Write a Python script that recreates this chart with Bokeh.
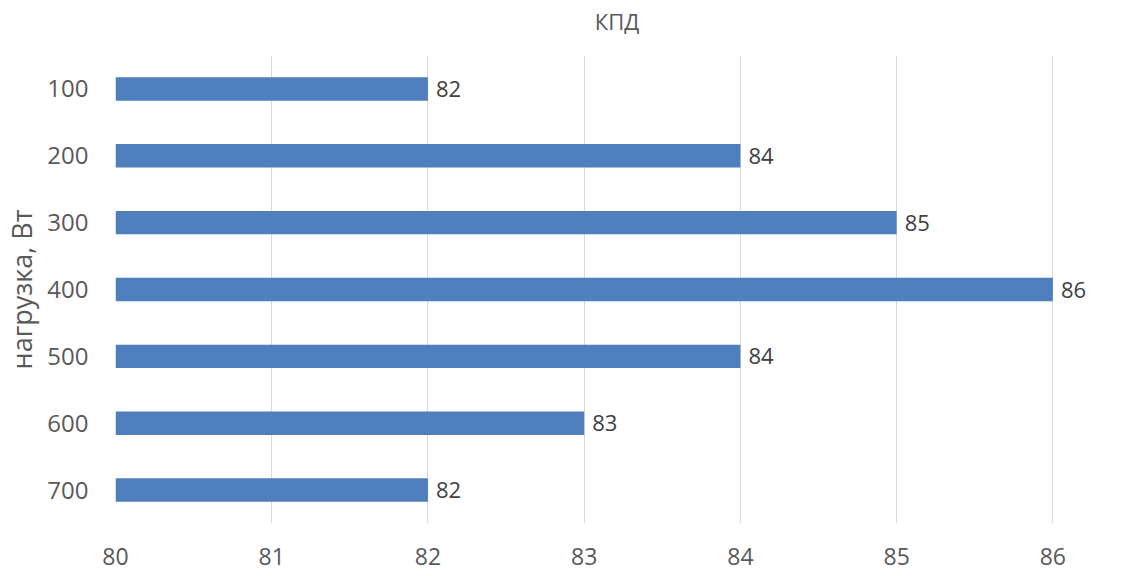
from bokeh.plotting import figure
from bokeh.models import ColumnDataSource, FactorRange, Range1d, FixedTicker, LinearAxis
from bokeh.core.properties import value
from bokeh.embed import file_html
from bokeh.resources import INLINE

title_text = "КПД"
loads = ["100", "200", "300", "400", "500", "600", "700"]
kpd = [82, 84, 85, 86, 84, 83, 82]
x_ticks = [80, 81, 82, 83, 84, 85, 86]

FONT = "Open Sans"
src = ColumnDataSource(dict(y=loads, right=kpd, left=[80] * len(loads),
                            label=[str(v) for v in kpd]))

p = figure(width=1119, height=568, output_backend="svg", toolbar_location=None,
           y_range=FactorRange(factors=list(reversed(loads))),
           x_range=Range1d(80, 86.42),
           min_border_left=115, min_border_top=55, min_border_bottom=45,
           min_border_right=1)

p.hbar(y="y", left="left", right="right", height=0.35, source=src,
       fill_color="#4F7FBD", line_color=None)
p.text(x="right", y="y", text="label", source=src, x_offset=8,
       text_baseline="middle", text_align="left", text_font=value(FONT),
       text_font_size="22px", text_color="#404040")

bottom = p.below[0]
ticker = FixedTicker(ticks=x_ticks)
bottom.ticker = ticker
p.xgrid.ticker = ticker
bottom.axis_line_color = None
bottom.major_tick_line_color = None
bottom.minor_tick_line_color = None
bottom.major_label_standoff = 18
bottom.major_label_text_font = FONT
bottom.major_label_text_font_size = "23px"
bottom.major_label_text_color = "#595959"

# title as the label of a tickless axis above the frame
top_axis = LinearAxis(ticker=FixedTicker(ticks=[]), axis_label=title_text,
                      axis_line_color=None, major_tick_line_color=None,
                      minor_tick_line_color=None, axis_label_standoff=20,
                      major_label_text_font_size="0px",
                      axis_label_text_font=FONT, axis_label_text_font_size="22px",
                      axis_label_text_font_style="normal",
                      axis_label_text_color="#595959")
p.add_layout(top_axis, "above")

p.outline_line_color = None
p.ygrid.grid_line_color = None
p.xgrid.grid_line_color = "#D9D9D9"
p.xgrid.grid_line_width = 1

p.yaxis.axis_line_color = None
p.yaxis.major_tick_line_color = None
p.yaxis.minor_tick_line_color = None
p.yaxis.major_label_standoff = 21
p.yaxis.major_label_text_font = FONT
p.yaxis.major_label_text_font_size = "24px"
p.yaxis.major_label_text_color = "#595959"
p.yaxis.axis_label = "нагрузка, Вт"
p.yaxis.axis_label_text_font = FONT
p.yaxis.axis_label_text_font_size = "27px"
p.yaxis.axis_label_text_font_style = "normal"
p.yaxis.axis_label_text_color = "#595959"
p.yaxis.axis_label_standoff = 4

open("out.html", "w").write(file_html(p, INLINE))
